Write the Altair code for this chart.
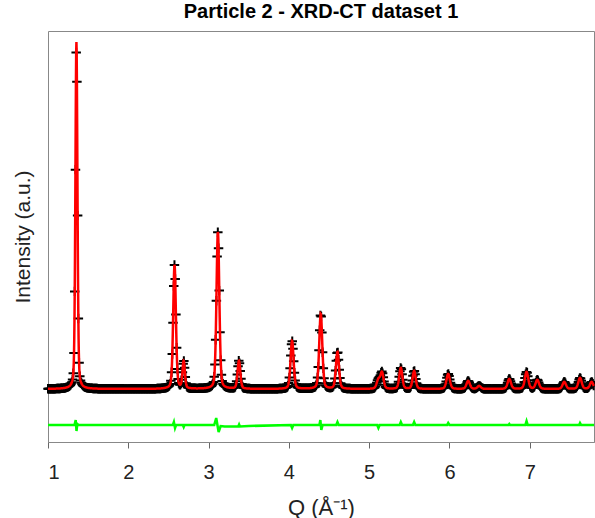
import altair as alt
import numpy as np
import pandas as pd

# ---- data ----
Q_START, Q_END = 1.0, 7.8
OBS_STEP = 0.009          # spacing of the observed points (Q)
CALC_STEP = 0.003         # spacing of the calculated curve (Q)

# Bragg peaks: position (Q), height above background, FWHM (Q)
PEAK_Q = [1.354, 2.576, 2.690, 3.116, 3.378, 4.040, 4.397, 4.605, 5.115, 5.160,
          5.394, 5.560, 5.984, 6.233, 6.370, 6.745, 6.960, 7.094, 7.430, 7.626, 7.770]
PEAK_H = [347, 124, 27, 157, 28, 48, 75, 37, 9, 16,
          21, 18, 15, 8, 3, 10, 17, 9, 7, 11, 7]
PEAK_FWHM = [0.030, 0.040, 0.035, 0.042, 0.040, 0.045, 0.045, 0.045, 0.050, 0.045,
             0.045, 0.045, 0.050, 0.050, 0.050, 0.050, 0.050, 0.050, 0.050, 0.050, 0.050]
ETA = 0.3                 # Lorentzian fraction of the peak shape

# difference curve (obs - calc), plotted with an offset
DIFF_OFFSET = -36
DIFF_Q = [1.000, 1.330, 1.345, 1.355, 1.365, 1.380, 2.555, 2.568, 2.582, 2.595,
          2.680, 2.690, 2.700, 3.070, 3.095, 3.125, 3.150, 3.200, 3.370, 3.380, 3.390,
          3.500, 4.025, 4.040, 4.055, 4.380, 4.392, 4.404, 4.420, 4.590, 4.605, 4.620,
          5.100, 5.115, 5.130, 5.380, 5.394, 5.410, 5.545, 5.560, 5.575, 5.970, 5.984,
          6.000, 6.735, 6.745, 6.755, 6.945, 6.960, 6.975, 7.615, 7.626, 7.640, 7.800]
DIFF_V = [0, 0, 5, -6, 1, 0, 0, 3, -3, 0,
          0, -2, 0, 0, 7, -7, -1, -1.5, -1.5, 0.5, -1.5,
          -1, 0, -3, 0, 0, 5, -5, 0, 0, 3, 0,
          0, -3, 0, 0, 3, 0, 0, 3, 0, 0, 2,
          0, 0, 1, 0, 0, 4, 0, 0, 2, 0, 0]

TITLE = "Particle 2 - XRD-CT dataset 1"
X_TITLE = "Q (Å⁻¹)"
Y_TITLE = "Intensity (a.u.)"
X_TICKS = [1, 2, 3, 4, 5, 6, 7]


def profile(q):
    total = np.zeros_like(q)
    for c, h, f in zip(PEAK_Q, PEAK_H, PEAK_FWHM):
        x = (q - c) / f
        total += h * ((1 - ETA) * np.exp(-4 * np.log(2) * x ** 2) + ETA / (1 + 4 * x ** 2))
    return total


q_obs = np.arange(Q_START, Q_END + 1e-9, OBS_STEP)
q_calc = np.arange(Q_START, Q_END + 1e-9, CALC_STEP)
obs = pd.DataFrame({"Q": q_obs, "I": profile(q_obs)})
calc = pd.DataFrame({"Q": q_calc, "I": profile(q_calc)})
diff = pd.DataFrame({"Q": DIFF_Q, "I": [DIFF_OFFSET + v for v in DIFF_V]})

FONT = "Liberation Sans"
xs = alt.Scale(domain=[1, 7.8], nice=False, zero=False)
ys = alt.Scale(domain=[-53, 358], nice=False, zero=False)

x_enc = alt.X("Q:Q", scale=xs, title=X_TITLE,
              axis=alt.Axis(values=X_TICKS, format="d", grid=False, tickSize=6,
                            labelFontSize=20, titleFontSize=22, labelPadding=14,
                            titlePadding=15, labelColor="#222222", titleColor="#222222",
                            tickColor="#666666", domainColor="#888888", labelFont=FONT,
                            titleFont=FONT, titleFontWeight="normal"))
y_enc = alt.Y("I:Q", scale=ys, title=Y_TITLE,
              axis=alt.Axis(labels=False, ticks=False, grid=False, domain=False,
                            titleFontSize=21, titlePadding=15, titleColor="#222222",
                            titleFont=FONT, titleFontWeight="normal"))

plus = "M-1,0L1,0M0,-1L0,1"
pts = alt.Chart(obs).mark_point(shape=plus, filled=False, stroke="black", strokeWidth=2,
                                size=90, opacity=1).encode(x=x_enc, y=y_enc)
red = alt.Chart(calc).mark_line(color="#ff0000", strokeWidth=2.5).encode(x="Q:Q", y="I:Q")
green = alt.Chart(diff).mark_line(color="#00ff00", strokeWidth=2.5).encode(x="Q:Q", y="I:Q")

chart = (pts + red + green).properties(
    width=546, height=411,
    title=alt.TitleParams(TITLE, fontSize=20, fontWeight="bold", font=FONT,
                          anchor="middle", offset=9, color="black"),
    autosize=alt.AutoSizeParams(type="none"),
    padding={"left": 48, "top": 31, "right": 1, "bottom": 76},
).configure_view(stroke="#888888", strokeWidth=1)

chart.save("out.html", embed_options={"renderer": "svg", "actions": False})
